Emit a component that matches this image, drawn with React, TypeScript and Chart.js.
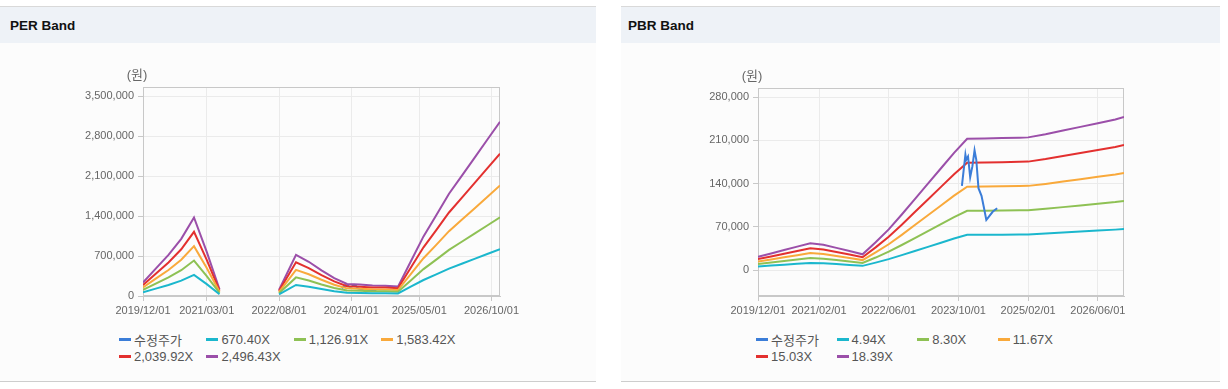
import React, { useEffect, useRef } from 'react';
import { Chart, registerables } from 'chart.js';

Chart.register(...registerables);

const FONT = "'Liberation Sans', 'Noto Sans CJK KR', Arial, sans-serif";

// ---------- PER Band data ----------
const PER_DATES = [
  '2019/12', '2020/03', '2020/06', '2020/09', '2020/12', '2021/03', '2021/06',
  '2022/01',
  '2022/08', '2022/12', '2023/03', '2023/06', '2023/09', '2023/12', '2024/03',
  '2024/06', '2024/09', '2024/12', '2025/03', '2025/06', '2025/09', '2025/12',
  '2026/03', '2026/06', '2026/09', '2026/12',
];
const PER_X1 = [63000, 128700, 193100, 268800, 369400, 207800, 31500, null, 28200, 193700, 160900, 120700, 83800, 56600, 53600, 49600, 48300, 44200, 162200, 280200, 379400, 480700, 565100, 649600, 734800, 819200];
const PER_X2 = [105900, 216400, 324500, 451900, 620900, 349300, 53000, null, 47300, 325700, 270500, 202800, 140900, 95200, 90200, 83400, 81100, 74400, 272700, 471100, 637800, 808000, 950000, 1092000, 1235100, 1377100];
const PER_X3 = [148800, 304000, 456000, 635000, 872500, 490900, 74400, null, 66500, 457600, 380000, 285000, 197900, 133800, 126700, 117200, 114000, 104500, 383200, 661900, 896200, 1135300, 1334800, 1534300, 1735400, 1934900];
const PER_X4 = [191800, 391700, 587500, 818000, 1124000, 632400, 95900, null, 85700, 589500, 489600, 367200, 255000, 172400, 163200, 151000, 146900, 134600, 493700, 852700, 1154600, 1462600, 1719700, 1976700, 2235700, 2492800];
const PER_X5 = [234700, 479300, 719000, 1001100, 1375500, 773900, 117300, null, 104900, 721500, 599100, 449400, 312100, 210900, 199700, 184700, 179700, 164800, 604100, 1043500, 1413000, 1789900, 2104500, 2419000, 2736100, 3050600];
const PER_LABELS = ['수정주가', '670.40X', '1,126.91X', '1,583.42X', '2,039.92X', '2,496.43X'];
const PER_X_TICKS = ['2019/12/01', '2021/03/01', '2022/08/01', '2024/01/01', '2025/05/01', '2026/10/01'];
const PER_Y_TICKS = [0, 700000, 1400000, 2100000, 2800000, 3500000];

// ---------- PBR Band data ----------
const PBR_DATES = [
  '2019/12', '2020/03', '2020/06', '2020/09', '2020/12', '2021/03', '2021/06', '2021/09',
  '2021/12', '2022/03', '2022/06', '2022/09', '2022/12', '2023/03', '2023/06', '2023/09',
  '2023/12', '2024/04', '2024/08', '2024/12', '2025/02', '2025/06', '2025/10', '2026/02',
  '2026/06', '2026/10', '2026/12',
];
const PBR_X1 = [5830, 7250, 8730, 10210, 11630, 11010, 9670, 8330, 6850, 12090, 17730, 24180, 30890, 37610, 44320, 51040, 57160, 57270, 57430, 57620, 57750, 59100, 60710, 62320, 63930, 65540, 66620];
const PBR_X2 = [9790, 12190, 14670, 17150, 19540, 18500, 16250, 13990, 11510, 20310, 29790, 40620, 51900, 63190, 74470, 85750, 96040, 96220, 96490, 96810, 97040, 99290, 102000, 104710, 107420, 110120, 111930];
const PBR_X3 = [13770, 17130, 20620, 24110, 27480, 26020, 22840, 19670, 16180, 28560, 41880, 57110, 72980, 88840, 104710, 120570, 135040, 135290, 135670, 136120, 136430, 139610, 143420, 147220, 151030, 154840, 157380];
const PBR_X4 = [17730, 22070, 26560, 31060, 35390, 33510, 29420, 25340, 20840, 36780, 53940, 73560, 93990, 114420, 134850, 155290, 173920, 174250, 174740, 175310, 175720, 179800, 184710, 189610, 194520, 199420, 202690];
const PBR_X5 = [21700, 27000, 32500, 38000, 43300, 41000, 36000, 31000, 25500, 45000, 66000, 90000, 115000, 140000, 165000, 190000, 212800, 213200, 213800, 214500, 215000, 220000, 226000, 232000, 238000, 244000, 248000];
const PBR_LABELS = ['수정주가', '4.94X', '8.30X', '11.67X', '15.03X', '18.39X'];
const PBR_X_TICKS = ['2019/12/01', '2021/02/01', '2022/06/01', '2023/10/01', '2025/02/01', '2026/06/01'];
const PBR_Y_TICKS = [0, 70000, 140000, 210000, 280000];

// ---------- adjusted price (수정주가) ----------
const PRICE_DATES = [
  '2023/10/25', '2023/11/19', '2023/11/25', '2023/12/07', '2023/12/22', '2024/01/07',
  '2024/01/22', '2024/02/04', '2024/02/19', '2024/03/10', '2024/03/25', '2024/04/13',
  '2024/05/01', '2024/05/28', '2024/06/28',
];
const PRICE_VALUES = [136500, 186900, 178700, 184000, 150600, 167900, 193900, 178700, 132700, 120200, 102900, 81200, 86700, 94800, 100200];

const COLORS = ['#3b7dd8', '#1bb7cd', '#8ec154', '#f9a93b', '#e3302f', '#9b4fa9'];

const toMonth = (s: string) => {
  const [y, m, d] = s.split('/').map(Number);
  return (y - 2019) * 12 + (m - 12) + ((d || 1) - 1) / 30;
};

const framePlugin = {
  id: 'frame',
  beforeDatasetsDraw(chart: any) {
    const { ctx, chartArea: a } = chart;
    ctx.save();
    ctx.strokeStyle = '#c8c8c8';
    ctx.lineWidth = 1;
    ctx.strokeRect(Math.round(a.left) + 0.5, Math.round(a.top) + 0.5, Math.round(a.right - a.left) - 1, Math.round(a.bottom - a.top) - 1);
    ctx.fillStyle = '#666';
    ctx.font = `13px ${FONT}`;
    ctx.textAlign = 'center';
    ctx.textBaseline = 'middle';
    ctx.fillText('(원)', a.left - 6, a.top - 12);
    ctx.restore();
  },
};

type ChartProps = {
  dates: string[];
  bands: (number | null)[][];
  xTicks: string[];
  yTicks: number[];
  yMin: number;
  yMax: number;
  priceOnTop: boolean;
  left: number;
  top: number;
  width: number;
  height: number;
  padTop: number;
};

function BandChart(p: ChartProps) {
  const ref = useRef<HTMLCanvasElement>(null);
  useEffect(() => {
    if (!ref.current) return;
    const xTickVals = p.xTicks.map(toMonth);
    const datasets: any[] = [
      {
        label: 'price',
        data: PRICE_DATES.map((d, i) => ({ x: toMonth(d), y: PRICE_VALUES[i] })),
        borderColor: COLORS[0],
        order: p.priceOnTop ? 0 : 1,
      },
      ...p.bands.map((arr, k) => ({
        label: 'band' + k,
        data: p.dates.map((d, i) => ({ x: toMonth(d), y: arr[i] })),
        borderColor: COLORS[k + 1],
        order: p.priceOnTop ? 1 : 0,
      })),
    ];
    const tickFont = { size: 11, family: FONT };
    const chart = new Chart(ref.current, {
      type: 'line',
      data: { datasets },
      plugins: [framePlugin],
      options: {
        responsive: false,
        animation: false,
        layout: { padding: { top: p.padTop, right: 30, left: 0, bottom: 0 } },
        plugins: { legend: { display: false }, tooltip: { enabled: false } },
        elements: { point: { radius: 0 }, line: { borderWidth: 2, tension: 0 } },
        spanGaps: false,
        scales: {
          x: {
            type: 'linear',
            min: 0,
            max: 84,
            afterBuildTicks: (s: any) => { s.ticks = xTickVals.map((v) => ({ value: v })); },
            afterFit: (s: any) => { s.height = 25; },
            ticks: { autoSkip: false, maxRotation: 0, color: '#666', font: tickFont, padding: 3, callback: (_v: any, i: number) => p.xTicks[i] },
            grid: { color: '#ebebeb', tickColor: '#c8c8c8', tickLength: 5 },
            border: { color: '#c8c8c8' },
          },
          y: {
            type: 'linear',
            min: p.yMin,
            max: p.yMax,
            afterBuildTicks: (s: any) => { s.ticks = p.yTicks.map((v) => ({ value: v })); },
            afterFit: (s: any) => { s.width = 60; },
            ticks: { color: '#666', font: tickFont, padding: 4, callback: (v: any) => Number(v).toLocaleString('en-US') },
            grid: { color: '#ebebeb', tickColor: '#c8c8c8', tickLength: 5 },
            border: { color: '#c8c8c8' },
          },
        },
      } as any,
    });
    return () => chart.destroy();
  }, []);
  return (
    <canvas
      ref={ref}
      width={p.width}
      height={p.height}
      style={{ position: 'absolute', left: p.left, top: p.top, width: p.width, height: p.height }}
    />
  );
}

function Legend({ labels, left, colW }: { labels: string[]; left: number; colW: number }) {
  return (
    <div
      style={{
        position: 'absolute',
        left,
        top: 331,
        display: 'grid',
        gridTemplateColumns: `repeat(4, ${colW}px)`,
        font: `13px ${FONT}`,
        color: '#555',
      }}
    >
      {labels.map((l, i) => (
        <div key={l} style={{ display: 'flex', alignItems: 'center', height: 17, whiteSpace: 'nowrap' }}>
          <span style={{ display: 'inline-block', width: 12, height: 3, background: COLORS[i], marginRight: 3 }} />
          {l}
        </div>
      ))}
    </div>
  );
}

function Panel({ title, left, width }: { title: string; left: number; width: number }) {
  return (
    <div
      style={{
        position: 'absolute',
        left,
        top: 6,
        width,
        height: 376,
        boxSizing: 'border-box',
        borderTop: '1px solid #d9d9d9',
        borderBottom: '1px solid #cdcdcd',
        background: '#fcfcfc',
      }}
    >
      <div
        style={{
          height: 36,
          background: '#eef2f7',
          display: 'flex',
          alignItems: 'center',
          paddingLeft: left === 0 ? 10 : 7,
          font: `bold 13.5px ${FONT}`,
          color: '#111',
        }}
      >
        {title}
      </div>
    </div>
  );
}

export default function App() {
  return (
    <div style={{ position: 'fixed', left: 0, top: 0, width: 1228, height: 389, background: '#fff', overflow: 'hidden' }}>
      <Panel title="PER Band" left={0} width={596} />
      <Panel title="PBR Band" left={621} width={599} />
      <BandChart
        dates={PER_DATES}
        bands={[PER_X1, PER_X2, PER_X3, PER_X4, PER_X5]}
        xTicks={PER_X_TICKS}
        yTicks={PER_Y_TICKS}
        yMin={0}
        yMax={3660000}
        priceOnTop={false}
        left={83}
        top={60}
        width={447}
        height={261}
        padTop={27}
      />
      <BandChart
        dates={PBR_DATES}
        bands={[PBR_X1, PBR_X2, PBR_X3, PBR_X4, PBR_X5]}
        xTicks={PBR_X_TICKS}
        yTicks={PBR_Y_TICKS}
        yMin={-42000}
        yMax={295000}
        priceOnTop={true}
        left={698}
        top={60}
        width={456}
        height={261}
        padTop={28}
      />
      <Legend labels={PER_LABELS} left={119} colW={87.4} />
      <Legend labels={PBR_LABELS} left={756} colW={80.6} />
    </div>
  );
}
